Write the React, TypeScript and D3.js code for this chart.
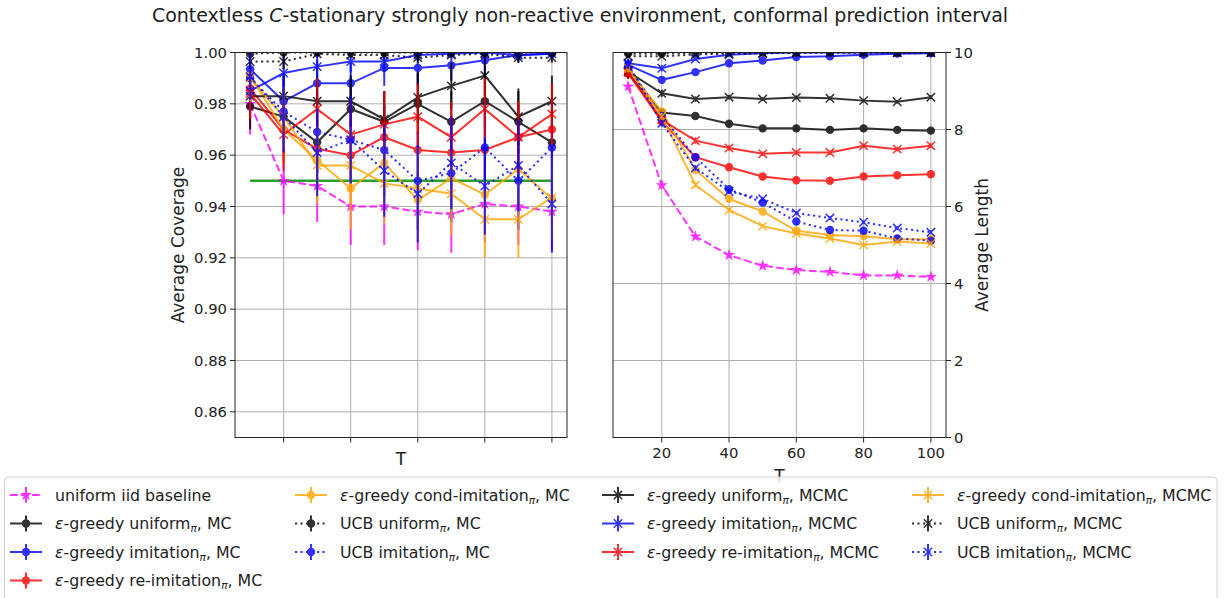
import React from 'react'
import * as d3 from 'd3'

const T = [10, 20, 30, 40, 50, 60, 70, 80, 90, 100]

// Average coverage (left panel)
const covBaseline = [0.98, 0.95, 0.948, 0.94, 0.94, 0.938, 0.937, 0.941, 0.94, 0.938]
const covGreedyUniformMC = [0.979, 0.975, 0.965, 0.978, 0.973, 0.98, 0.973, 0.981, 0.973, 0.965]
const covGreedyImitMC = [0.9935, 0.981, 0.988, 0.988, 0.994, 0.994, 0.995, 0.997, 0.999, 0.9995]
const covGreedyReImitMC = [0.986, 0.97, 0.9625, 0.96, 0.967, 0.962, 0.961, 0.962, 0.967, 0.97]
const covGreedyCondMC = [0.991, 0.97, 0.958, 0.947, 0.957, 0.9425, 0.951, 0.9446, 0.9546, 0.943]
const covUcbUniformMC = [0.9995, 1.0, 1.0, 1.0, 1.0, 1.0, 1.0, 1.0, 1.0, 1.0]
const covUcbImitMC = [0.99, 0.977, 0.969, 0.966, 0.962, 0.95, 0.953, 0.963, 0.95, 0.963]
const covGreedyUniformMCMC = [0.983, 0.983, 0.981, 0.981, 0.974, 0.9825, 0.987, 0.991, 0.975, 0.981]
const covGreedyImitMCMC = [0.985, 0.992, 0.9945, 0.9965, 0.9965, 0.999, 0.9995, 1.0, 0.999, 0.9995]
const covGreedyReImitMCMC = [0.984, 0.968, 0.978, 0.968, 0.972, 0.975, 0.967, 0.978, 0.967, 0.976]
const covGreedyCondMCMC = [0.99, 0.975, 0.956, 0.956, 0.949, 0.947, 0.945, 0.935, 0.935, 0.9435]
const covUcbUniformMCMC = [0.9965, 0.9965, 0.9995, 0.999, 0.999, 0.998, 0.999, 0.9995, 0.998, 0.998]
const covUcbImitMCMC = [0.9906, 0.975, 0.961, 0.966, 0.954, 0.945, 0.957, 0.948, 0.956, 0.941]
const covTarget = 0.95

// coverage std (error bars)
const covErrBaseline = [0.012, 0.013, 0.014, 0.015, 0.015, 0.015, 0.015, 0.015, 0.015, 0.015]
const covErrGreedyUniformMC = [0.009, 0.011, 0.012, 0.012, 0.012, 0.012, 0.012, 0.011, 0.012, 0.012]
const covErrGreedyImitMC = [0.008, 0.01, 0.009, 0.008, 0.007, 0.007, 0.006, 0.005, 0.003, 0.002]
const covErrGreedyReImitMC = [0.01, 0.013, 0.014, 0.014, 0.013, 0.014, 0.014, 0.014, 0.013, 0.013]
const covErrGreedyCondMC = [0.009, 0.013, 0.015, 0.016, 0.015, 0.016, 0.016, 0.016, 0.015, 0.016]
const covErrUcbUniformMC = [0.001, 0.001, 0.001, 0.001, 0.001, 0.001, 0.001, 0.001, 0.001, 0.001]
const covErrUcbImitMC = [0.009, 0.014, 0.016, 0.017, 0.018, 0.019, 0.019, 0.018, 0.019, 0.018]
const covErrGreedyUniformMCMC = [0.009, 0.009, 0.01, 0.01, 0.011, 0.01, 0.009, 0.008, 0.011, 0.01]
const covErrGreedyImitMCMC = [0.009, 0.007, 0.006, 0.004, 0.004, 0.002, 0.001, 0.001, 0.002, 0.001]
const covErrGreedyReImitMCMC = [0.01, 0.014, 0.012, 0.014, 0.013, 0.013, 0.014, 0.012, 0.014, 0.012]
const covErrGreedyCondMCMC = [0.009, 0.012, 0.015, 0.015, 0.016, 0.016, 0.016, 0.015, 0.015, 0.016]
const covErrUcbUniformMCMC = [0.003, 0.003, 0.001, 0.001, 0.001, 0.002, 0.001, 0.001, 0.002, 0.002]
const covErrUcbImitMCMC = [0.009, 0.014, 0.017, 0.017, 0.018, 0.019, 0.018, 0.019, 0.018, 0.019]

// Average length (right panel)
const lenBaseline = [9.12, 6.55, 5.22, 4.74, 4.46, 4.35, 4.3, 4.21, 4.21, 4.17]
const lenGreedyUniformMC = [9.46, 8.44, 8.35, 8.15, 8.03, 8.03, 7.99, 8.03, 7.99, 7.97]
const lenGreedyImitMC = [9.68, 9.29, 9.49, 9.72, 9.79, 9.88, 9.9, 9.94, 9.97, 9.98]
const lenGreedyReImitMC = [9.46, 8.21, 7.28, 7.02, 6.78, 6.68, 6.67, 6.78, 6.81, 6.84]
const lenGreedyCondMC = [9.55, 8.47, 6.95, 6.2, 5.87, 5.37, 5.26, 5.23, 5.15, 5.15]
const lenUcbUniformMC = [9.97, 9.97, 9.99, 10.0, 10.0, 10.0, 10.0, 10.0, 10.0, 10.0]
const lenUcbImitMC = [9.65, 8.35, 7.28, 6.45, 6.1, 5.61, 5.39, 5.37, 5.17, 5.11]
const lenGreedyUniformMCMC = [9.5, 8.94, 8.79, 8.84, 8.79, 8.83, 8.81, 8.75, 8.72, 8.84]
const lenGreedyImitMCMC = [9.72, 9.59, 9.83, 9.94, 9.98, 10.0, 10.0, 10.0, 10.0, 10.0]
const lenGreedyReImitMCMC = [9.49, 8.25, 7.71, 7.52, 7.37, 7.4, 7.4, 7.58, 7.49, 7.58]
const lenGreedyCondMCMC = [9.6, 8.34, 6.56, 5.91, 5.49, 5.3, 5.17, 5.0, 5.09, 5.04]
const lenUcbUniformMCMC = [9.9, 9.9, 9.95, 9.97, 9.98, 9.99, 10.0, 10.0, 10.0, 10.0]
const lenUcbImitMCMC = [9.7, 8.16, 7.0, 6.39, 6.2, 5.83, 5.7, 5.59, 5.44, 5.33]

// length std (error bars)
const lenErrBaseline = [0.1, 0.08, 0.05, 0.04, 0.03, 0.03, 0.03, 0.02, 0.02, 0.02]
const lenErrGreedyUniformMC = [0.15, 0.1, 0.08, 0.07, 0.06, 0.06, 0.05, 0.05, 0.05, 0.05]
const lenErrGreedyImitMC = [0.12, 0.1, 0.08, 0.06, 0.05, 0.04, 0.03, 0.02, 0.02, 0.02]
const lenErrGreedyReImitMC = [0.15, 0.1, 0.08, 0.07, 0.06, 0.06, 0.06, 0.06, 0.06, 0.06]
const lenErrGreedyCondMC = [0.12, 0.09, 0.07, 0.06, 0.05, 0.05, 0.05, 0.05, 0.05, 0.05]
const lenErrUcbUniformMC = [0.03, 0.03, 0.02, 0.01, 0.01, 0.01, 0.01, 0.01, 0.01, 0.01]
const lenErrUcbImitMC = [0.12, 0.09, 0.07, 0.06, 0.05, 0.05, 0.05, 0.05, 0.05, 0.05]
const lenErrGreedyUniformMCMC = [0.15, 0.09, 0.07, 0.06, 0.05, 0.05, 0.05, 0.05, 0.05, 0.05]
const lenErrGreedyImitMCMC = [0.12, 0.08, 0.05, 0.03, 0.02, 0.01, 0.01, 0.01, 0.01, 0.01]
const lenErrGreedyReImitMCMC = [0.15, 0.1, 0.08, 0.07, 0.06, 0.06, 0.06, 0.06, 0.06, 0.06]
const lenErrGreedyCondMCMC = [0.12, 0.09, 0.07, 0.06, 0.05, 0.05, 0.05, 0.05, 0.05, 0.05]
const lenErrUcbUniformMCMC = [0.05, 0.05, 0.03, 0.02, 0.01, 0.01, 0.01, 0.01, 0.01, 0.01]
const lenErrUcbImitMCMC = [0.12, 0.09, 0.07, 0.06, 0.05, 0.05, 0.05, 0.05, 0.05, 0.05]

const covTicks = [0.86, 0.88, 0.9, 0.92, 0.94, 0.96, 0.98, 1.0]
const lenTicks = [0, 2, 4, 6, 8, 10]
const tTicks = [20, 40, 60, 80, 100]

type Marker = 'o' | 'x' | 'star'
interface Label { eps: boolean; name: string; pi: boolean; tail: string }
interface Series {
  label: Label
  color: string
  dash: string | undefined
  marker: Marker
  cov: number[]
  covErr: number[]
  len: number[]
  lenErr: number[]
}

const SOLID = undefined
const DOTTED = '2.1,3.4'
const DASHED = '7.7,3.3'
const ORANGE = '#ffa500'

const series: Series[] = [
  { label: { eps: false, name: 'uniform iid baseline', pi: false, tail: '' }, color: '#ff00ff', dash: DASHED, marker: 'star', cov: covBaseline, covErr: covErrBaseline, len: lenBaseline, lenErr: lenErrBaseline },
  { label: { eps: true, name: '-greedy uniform', pi: true, tail: ', MC' }, color: 'black', dash: SOLID, marker: 'o', cov: covGreedyUniformMC, covErr: covErrGreedyUniformMC, len: lenGreedyUniformMC, lenErr: lenErrGreedyUniformMC },
  { label: { eps: true, name: '-greedy imitation', pi: true, tail: ', MC' }, color: 'blue', dash: SOLID, marker: 'o', cov: covGreedyImitMC, covErr: covErrGreedyImitMC, len: lenGreedyImitMC, lenErr: lenErrGreedyImitMC },
  { label: { eps: true, name: '-greedy re-imitation', pi: true, tail: ', MC' }, color: 'red', dash: SOLID, marker: 'o', cov: covGreedyReImitMC, covErr: covErrGreedyReImitMC, len: lenGreedyReImitMC, lenErr: lenErrGreedyReImitMC },
  { label: { eps: true, name: '-greedy cond-imitation', pi: true, tail: ', MC' }, color: ORANGE, dash: SOLID, marker: 'o', cov: covGreedyCondMC, covErr: covErrGreedyCondMC, len: lenGreedyCondMC, lenErr: lenErrGreedyCondMC },
  { label: { eps: false, name: 'UCB uniform', pi: true, tail: ', MC' }, color: 'black', dash: DOTTED, marker: 'o', cov: covUcbUniformMC, covErr: covErrUcbUniformMC, len: lenUcbUniformMC, lenErr: lenErrUcbUniformMC },
  { label: { eps: false, name: 'UCB imitation', pi: true, tail: ', MC' }, color: 'blue', dash: DOTTED, marker: 'o', cov: covUcbImitMC, covErr: covErrUcbImitMC, len: lenUcbImitMC, lenErr: lenErrUcbImitMC },
  { label: { eps: true, name: '-greedy uniform', pi: true, tail: ', MCMC' }, color: 'black', dash: SOLID, marker: 'x', cov: covGreedyUniformMCMC, covErr: covErrGreedyUniformMCMC, len: lenGreedyUniformMCMC, lenErr: lenErrGreedyUniformMCMC },
  { label: { eps: true, name: '-greedy imitation', pi: true, tail: ', MCMC' }, color: 'blue', dash: SOLID, marker: 'x', cov: covGreedyImitMCMC, covErr: covErrGreedyImitMCMC, len: lenGreedyImitMCMC, lenErr: lenErrGreedyImitMCMC },
  { label: { eps: true, name: '-greedy re-imitation', pi: true, tail: ', MCMC' }, color: 'red', dash: SOLID, marker: 'x', cov: covGreedyReImitMCMC, covErr: covErrGreedyReImitMCMC, len: lenGreedyReImitMCMC, lenErr: lenErrGreedyReImitMCMC },
  { label: { eps: true, name: '-greedy cond-imitation', pi: true, tail: ', MCMC' }, color: ORANGE, dash: SOLID, marker: 'x', cov: covGreedyCondMCMC, covErr: covErrGreedyCondMCMC, len: lenGreedyCondMCMC, lenErr: lenErrGreedyCondMCMC },
  { label: { eps: false, name: 'UCB uniform', pi: true, tail: ', MCMC' }, color: 'black', dash: DOTTED, marker: 'x', cov: covUcbUniformMCMC, covErr: covErrUcbUniformMCMC, len: lenUcbUniformMCMC, lenErr: lenErrUcbUniformMCMC },
  { label: { eps: false, name: 'UCB imitation', pi: true, tail: ', MCMC' }, color: 'blue', dash: DOTTED, marker: 'x', cov: covUcbImitMCMC, covErr: covErrUcbImitMCMC, len: lenUcbImitMCMC, lenErr: lenErrUcbImitMCMC }
]

const FONT = 'DejaVu Sans, sans-serif'
const ALPHA = 0.8
const LW = 2

const top = 52.5
const bottom = 437.5
const xLeft = d3.scaleLinear().domain([5.5, 104.5]).range([235, 567])
const xRight = d3.scaleLinear().domain([5.5, 104.5]).range([613, 946])
const yCov = d3.scaleLinear().domain([0.85, 1.0]).range([bottom, top])
const yLen = d3.scaleLinear().domain([0, 10]).range([bottom, top])

const starPath = d3.symbol().type(d3.symbolStar).size(45)()

const MarkerGlyph = ({ x, y, m, color }: { x: number; y: number; m: Marker; color: string }) => {
  if (m === 'o') return <circle cx={x} cy={y} r={4.2} fill={color} />
  if (m === 'star') return <path d={starPath || ''} transform={`translate(${x},${y})`} fill={color} />
  const s = 4.2
  return (
    <path d={`M${x - s},${y - s}L${x + s},${y + s}M${x - s},${y + s}L${x + s},${y - s}`} stroke={color} strokeWidth={1.5} fill="none" />
  )
}

const Panel = ({ x, y, valueKey, errKey, clipId }: {
  x: d3.ScaleLinear<number, number>
  y: d3.ScaleLinear<number, number>
  valueKey: 'cov' | 'len'
  errKey: 'covErr' | 'lenErr'
  clipId: string
}) => {
  const line = d3.line<number>().x((_, i) => x(T[i])).y(d => y(d))
  return (
    <g clipPath={`url(#${clipId})`}>
      {series.map((s, si) => (
        <g key={si} opacity={ALPHA}>
          {s[valueKey].map((v, i) => (
            <line key={i} x1={x(T[i])} x2={x(T[i])} y1={y(v - s[errKey][i])} y2={y(v + s[errKey][i])} stroke={s.color} strokeWidth={LW} />
          ))}
          <path d={line(s[valueKey]) || ''} fill="none" stroke={s.color} strokeWidth={LW} strokeDasharray={s.dash} />
          {s[valueKey].map((v, i) => (
            <MarkerGlyph key={i} x={x(T[i])} y={y(v)} m={s.marker} color={s.color} />
          ))}
        </g>
      ))}
    </g>
  )
}

const LegendText = ({ x, y, l }: { x: number; y: number; l: Label }) => (
  <text x={x} y={y} fontSize={15.8} fill="#222">
    {l.eps && <tspan fontStyle="italic">ε</tspan>}
    <tspan>{l.name}</tspan>
    {l.pi && <tspan fontStyle="italic" fontSize={10.5} dy={3}>π</tspan>}
    {l.pi ? <tspan dy={-3}>{l.tail}</tspan> : <tspan>{l.tail}</tspan>}
  </text>
)

const App = () => {
  const gridColor = '#b0b0b0'
  const legendCols = [10, 295, 602, 912]
  const legendRows = [495, 523.5, 552, 580.5]
  const colOf = (i: number) => (i < 4 ? 0 : Math.floor((i - 4) / 3) + 1)
  const rowOf = (i: number) => (i < 4 ? i : (i - 4) % 3)

  return (
    <svg width={1225} height={598} style={{ position: 'absolute', left: 0, top: 0, background: 'white' }} fontFamily={FONT}>
      <defs>
        <clipPath id="clipL"><rect x={235} y={top} width={332} height={bottom - top} /></clipPath>
        <clipPath id="clipR"><rect x={613} y={top} width={333} height={bottom - top} /></clipPath>
      </defs>

      <text x={580} y={22} textAnchor="middle" fontSize={19} fill="#222">
        Contextless <tspan fontStyle="italic">C</tspan>-stationary strongly non-reactive environment, conformal prediction interval
      </text>

      {/* left panel: coverage */}
      {covTicks.map(t => (
        <g key={t}>
          <line x1={235} x2={567} y1={yCov(t)} y2={yCov(t)} stroke={gridColor} strokeWidth={1} />
          <line x1={230} x2={235} y1={yCov(t)} y2={yCov(t)} stroke="#222" strokeWidth={1} />
          <text x={227} y={yCov(t)} dy="0.35em" textAnchor="end" fontSize={14.8} fill="#222">{t.toFixed(2)}</text>
        </g>
      ))}
      {tTicks.map(t => (
        <g key={t}>
          <line x1={xLeft(t)} x2={xLeft(t)} y1={top} y2={bottom} stroke={gridColor} strokeWidth={1} />
          <line x1={xLeft(t)} x2={xLeft(t)} y1={bottom} y2={bottom + 5} stroke="#222" strokeWidth={1} />
        </g>
      ))}
      <line x1={xLeft(10)} x2={xLeft(100)} y1={yCov(covTarget)} y2={yCov(covTarget)} stroke="#2ca02c" strokeWidth={2.5} />
      <Panel x={xLeft} y={yCov} valueKey="cov" errKey="covErr" clipId="clipL" />
      <rect x={235} y={top} width={332} height={bottom - top} fill="none" stroke="#222" strokeWidth={1} />
      <text x={401} y={465} textAnchor="middle" fontSize={17} fill="#222">T</text>
      <text transform={`translate(184,${(top + bottom) / 2}) rotate(-90)`} textAnchor="middle" fontSize={17} fill="#222">Average Coverage</text>

      {/* right panel: length */}
      {lenTicks.map(t => (
        <g key={t}>
          <line x1={613} x2={946} y1={yLen(t)} y2={yLen(t)} stroke={gridColor} strokeWidth={1} />
          <line x1={946} x2={951} y1={yLen(t)} y2={yLen(t)} stroke="#222" strokeWidth={1} />
          <text x={954} y={yLen(t)} dy="0.35em" textAnchor="start" fontSize={14.8} fill="#222">{t}</text>
        </g>
      ))}
      {tTicks.map(t => (
        <g key={t}>
          <line x1={xRight(t)} x2={xRight(t)} y1={top} y2={bottom} stroke={gridColor} strokeWidth={1} />
          <line x1={xRight(t)} x2={xRight(t)} y1={bottom} y2={bottom + 5} stroke="#222" strokeWidth={1} />
          <text x={xRight(t)} y={458} textAnchor="middle" fontSize={14.8} fill="#222">{t}</text>
        </g>
      ))}
      <Panel x={xRight} y={yLen} valueKey="len" errKey="lenErr" clipId="clipR" />
      <rect x={613} y={top} width={333} height={bottom - top} fill="none" stroke="#222" strokeWidth={1} />
      <text x={779.5} y={482} textAnchor="middle" fontSize={17} fill="#222">T</text>
      <text transform={`translate(988,${(top + bottom) / 2}) rotate(-90)`} textAnchor="middle" fontSize={17} fill="#222">Average Length</text>

      {/* legend */}
      <rect x={4.5} y={477} width={1212.5} height={140} rx={4} fill="white" fillOpacity={0.8} stroke="#d0d0d0" strokeWidth={1} />
      {series.map((s, i) => {
        const hx = legendCols[colOf(i)]
        const cy = legendRows[rowOf(i)]
        return (
          <g key={i}>
            <g opacity={ALPHA}>
              <line x1={hx} x2={hx + 32} y1={cy} y2={cy} stroke={s.color} strokeWidth={LW} strokeDasharray={s.dash} />
              <line x1={hx + 16} x2={hx + 16} y1={cy - 8} y2={cy + 8} stroke={s.color} strokeWidth={LW} />
              <MarkerGlyph x={hx + 16} y={cy} m={s.marker} color={s.color} />
            </g>
            <LegendText x={hx + 45} y={cy + 5.5} l={s.label} />
          </g>
        )
      })}
    </svg>
  )
}

export default App
